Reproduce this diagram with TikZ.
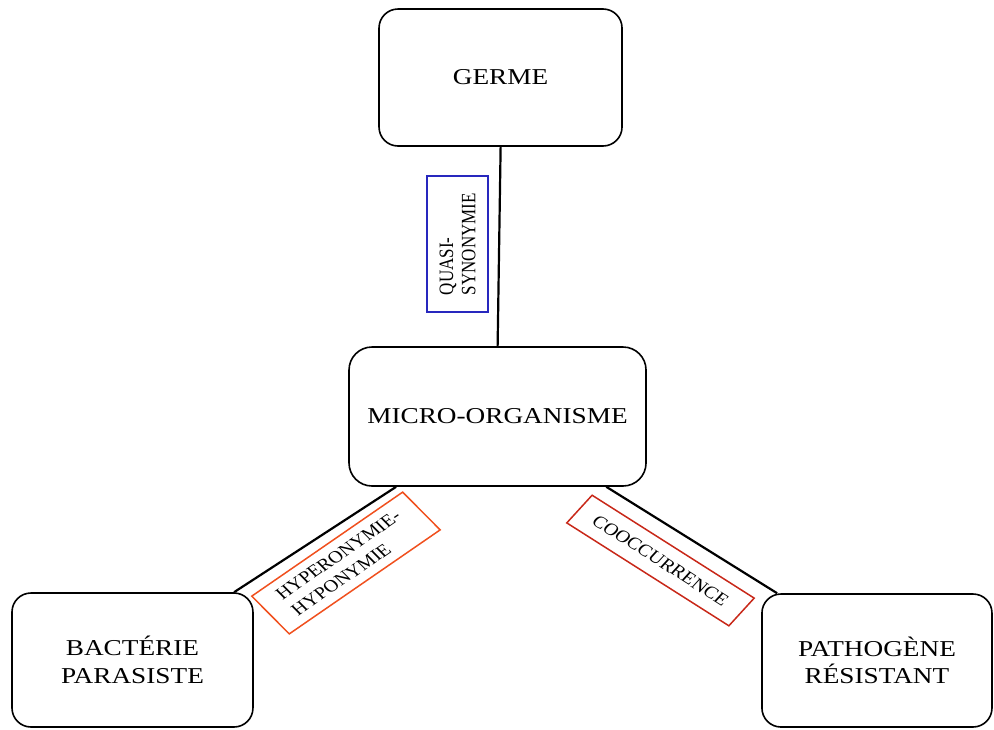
\documentclass[tikz,border=0pt]{standalone}
\usepackage{fontspec}
\setmainfont{Liberation Serif}
\usetikzlibrary{calc}
\definecolor{quasiblue}{RGB}{40,40,190}
\definecolor{hyperorange}{RGB}{240,80,30}
\definecolor{cooccred}{RGB}{200,40,25}
\begin{document}
\begin{tikzpicture}[x=1pt,y=-1pt,xscale=1.2,transform shape,
  term/.style={draw=black,line width=1.6pt,rounded corners=19pt,inner sep=0pt,align=center,
    font=\fontsize{22.7}{27.5}\selectfont},
  rel/.style={draw=black,line width=2.2pt},
  lab/.style={draw,line width=1.5pt,inner sep=0pt,align=left,
    font=\fontsize{17}{18.5}\selectfont},
]
\useasboundingbox (0,0) rectangle (828.33,729);

\node[term, minimum width=202.5pt, minimum height=137pt] (germe) at (417.1,77.5) {GERME};
\node[term, rounded corners=23pt, minimum width=247.5pt, minimum height=139pt] (micro) at (414.6,416.5) {MICRO-ORGANISME};
\node[term, minimum width=200.8pt, minimum height=134pt] (bact) at (110.4,660) {BACTÉRIE\\PARASISTE};
\node[term, minimum width=191.7pt, minimum height=133pt] (patho) at (730.8,660.5) {PATHOGÈNE\\RÉSISTANT};

\draw[rel] (germe.south) -- (micro.north);
\draw[rel] ($(micro.south west)+(40,0)$) -- ($(bact.north east)+(-16.6,0)$);
\draw[rel] ($(micro.south east)+(-34,0)$) -- ($(patho.north west)+(13.3,0)$);

\node[lab, draw=quasiblue, rotate=90, minimum width=136pt, minimum height=50.9pt] (quasi) at (381.3,244) {QUASI-\\SYNONYMIE};
\node[lab, draw=hyperorange, rotate=39.6, minimum width=163.2pt, minimum height=49pt,
  font=\fontsize{17}{20.5}\selectfont] (hyper) at (288.3,563) {HYPERONYMIE-\\HYPONYMIE};
\node[lab, draw=cooccred, rotate=-37.3, minimum width=169.8pt, minimum height=34.8pt] (coocc) at (550.4,560.5) {COOCCURRENCE};
\end{tikzpicture}
\end{document}
